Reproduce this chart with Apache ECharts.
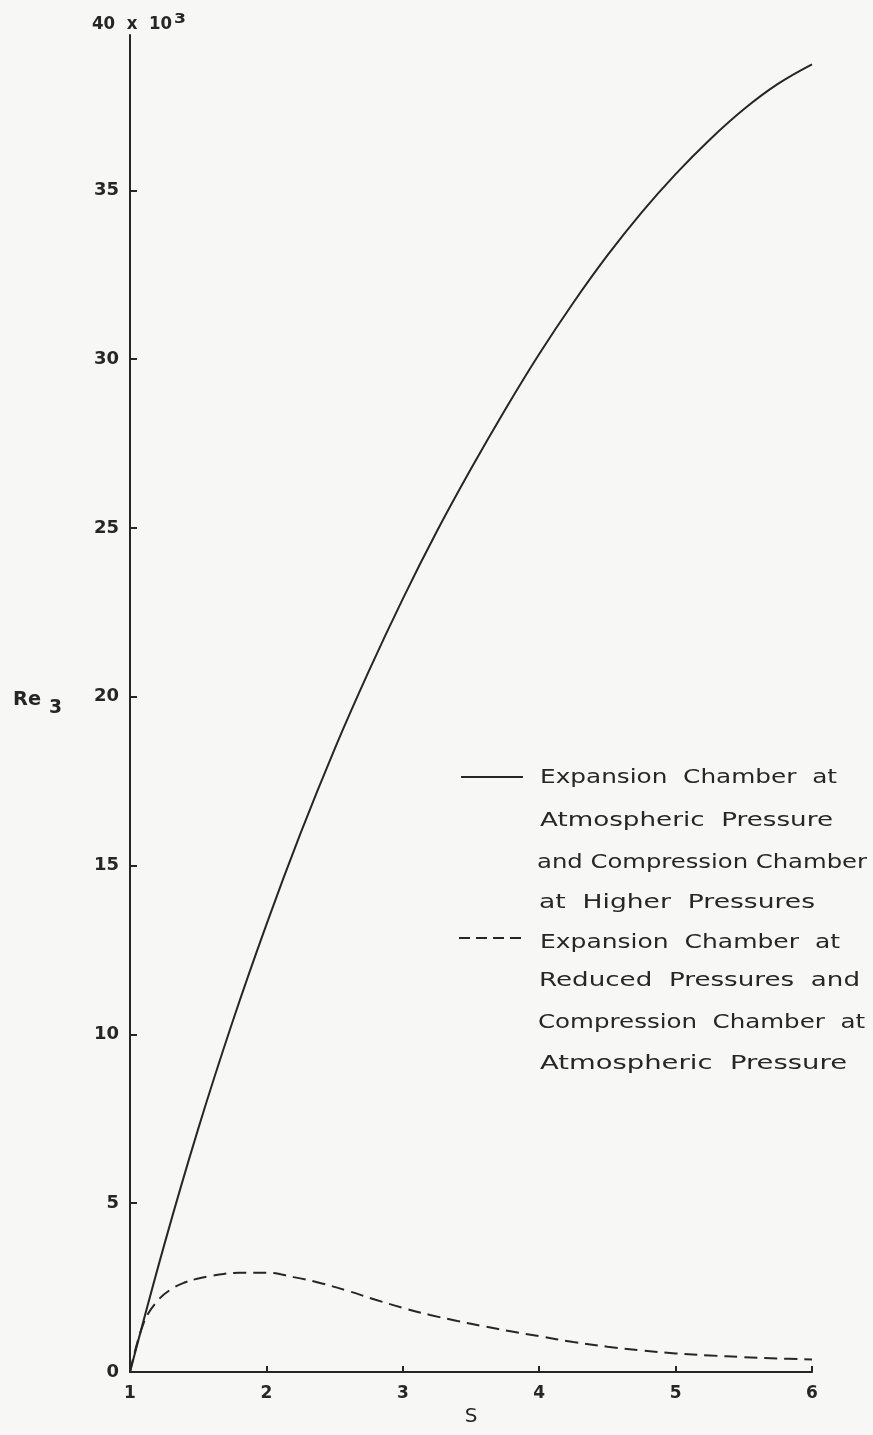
<!DOCTYPE html>
<html><head><meta charset="utf-8">
<script src="https://cdn.jsdelivr.net/npm/echarts@6/dist/echarts.min.js"></script>
<style>html,body{margin:0;padding:0;background:#f7f7f5}#c{width:873px;height:1435px}</style>
</head><body><div id="c"></div>
<script>
// S values and Re3 (x 10^3)
const sSolid  = [1.0, 1.25, 1.5, 1.75, 2.0, 2.25, 2.5, 2.75, 3.0, 3.25, 3.5, 3.75, 4.0, 4.25, 4.5, 4.75, 5.0, 5.25, 5.5, 5.75, 6.0];
const reSolid = [0.0, 3.75, 7.2, 10.35, 13.25, 15.95, 18.45, 20.75, 22.9, 24.9, 26.75, 28.5, 30.15, 31.67, 33.07, 34.34, 35.48, 36.5, 37.4, 38.15, 38.73];
const sDashed  = [1.0, 1.1, 1.2, 1.3, 1.4, 1.5, 1.6, 1.8, 2.0, 2.2, 2.4, 2.6, 2.8, 3.0, 3.2, 3.4, 3.6, 3.8, 4.0, 4.25, 4.5, 4.75, 5.0, 5.25, 5.5, 5.75, 6.0];
const reDashed = [0.0, 1.45, 2.1, 2.45, 2.65, 2.77, 2.85, 2.94, 2.94, 2.81, 2.63, 2.40, 2.14, 1.90, 1.69, 1.51, 1.35, 1.20, 1.06, 0.89, 0.75, 0.64, 0.55, 0.49, 0.44, 0.40, 0.37];
const xTickValues = [1, 2, 3, 4, 5, 6];
const yTickValues = [0, 5, 10, 15, 20, 25, 30, 35];
const seriesNames = ['Expansion Chamber at Atmospheric Pressure and Compression Chamber at Higher Pressures',
                     'Expansion Chamber at Reduced Pressures and Compression Chamber at Atmospheric Pressure'];
const legendSolidLines  = ['Expansion  Chamber  at', 'Atmospheric  Pressure', 'and Compression Chamber', 'at  Higher  Pressures'];
const legendDashedLines = ['Expansion  Chamber  at', 'Reduced  Pressures  and', 'Compression  Chamber  at', 'Atmospheric  Pressure'];
const xName = 'S';

const ink = '#262626';
const FONT = '"DejaVu Sans", sans-serif';

// measure text to stretch the lettering to the reference widths
const cv = document.createElement('canvas').getContext('2d');
const legFont = '20px "DejaVu Sans"';
function stretchedText(str, font, x, y, target) {
  cv.font = font;
  const w = cv.measureText(str).width;
  return {type: 'text', x: x, y: y, scaleX: target / w, z: 10,
    style: {text: str, font: font, fill: ink, verticalAlign: 'middle', align: 'left'}};
}
const legendLines = legendSolidLines.concat(legendDashedLines);
const legX = [540, 540, 537, 539, 540, 539, 538, 540];
const legY = [778, 821, 863, 903, 943, 981, 1023, 1064];
const legW = [297, 293, 330, 276, 300, 321, 327, 307];
const graphics = legendLines.map((t, i) => stretchedText(t, legFont, legX[i], legY[i], legW[i]));
graphics.push({type: 'line', shape: {x1: 461, y1: 777, x2: 523, y2: 777}, style: {stroke: ink, lineWidth: 2}});
graphics.push({type: 'line', shape: {x1: 459, y1: 938, x2: 523, y2: 938}, style: {stroke: ink, lineWidth: 2, lineDash: [11, 6]}});
// y-axis title Re3 (subscript 3)
graphics.push(stretchedText('Re', 'bold 20px "DejaVu Sans"', 13, 700, 28));
graphics.push(stretchedText('3', 'bold 20px "DejaVu Sans"', 49, 708, 13));
// axis multiplier 40 x 10^3
graphics.push(stretchedText('40  x  10', 'bold 18px "DejaVu Sans"', 92, 24, 80));
graphics.push(stretchedText('3', 'bold 14px "DejaVu Sans"', 174, 19, 12));

const chart = echarts.init(document.getElementById('c'), null, {renderer: 'canvas'});
chart.setOption({
  backgroundColor: '#f7f7f5',
  animation: false,
  grid: {left: 130, right: 61, top: 35, bottom: 63, containLabel: false},
  xAxis: {
    type: 'value', min: 1, max: 6, interval: 1,
    name: xName, nameLocation: 'middle', nameGap: 35,
    nameTextStyle: {fontFamily: FONT, fontSize: 20, color: ink},
    axisLine: {lineStyle: {color: ink, width: 2}},
    axisTick: {inside: true, length: 6, lineStyle: {color: ink, width: 2}},
    axisLabel: {margin: 13, fontFamily: FONT, fontSize: 17, fontWeight: 'bold', color: ink,
      customValues: xTickValues},
    splitLine: {show: false}
  },
  yAxis: {
    type: 'value', min: 0, max: 39.6,
    axisLine: {show: true, lineStyle: {color: ink, width: 2}},
    axisTick: {show: true, inside: true, length: 7, lineStyle: {color: ink, width: 2},
      customValues: yTickValues.filter(v => v > 0)},
    axisLabel: {margin: 11, fontFamily: FONT, fontSize: 18, fontWeight: 'bold', color: ink,
      customValues: yTickValues},
    splitLine: {show: false}
  },
  series: [
    {name: seriesNames[0], type: 'line', showSymbol: false, smooth: 0.4,
      data: sSolid.map((s, i) => [s, reSolid[i]]),
      lineStyle: {color: ink, width: 2}},
    {name: seriesNames[1], type: 'line', showSymbol: false, smooth: 0.4,
      data: sDashed.map((s, i) => [s, reDashed[i]]),
      lineStyle: {color: ink, width: 2, type: [13, 7]}}
  ],
  graphic: graphics
});
</script></body></html>
